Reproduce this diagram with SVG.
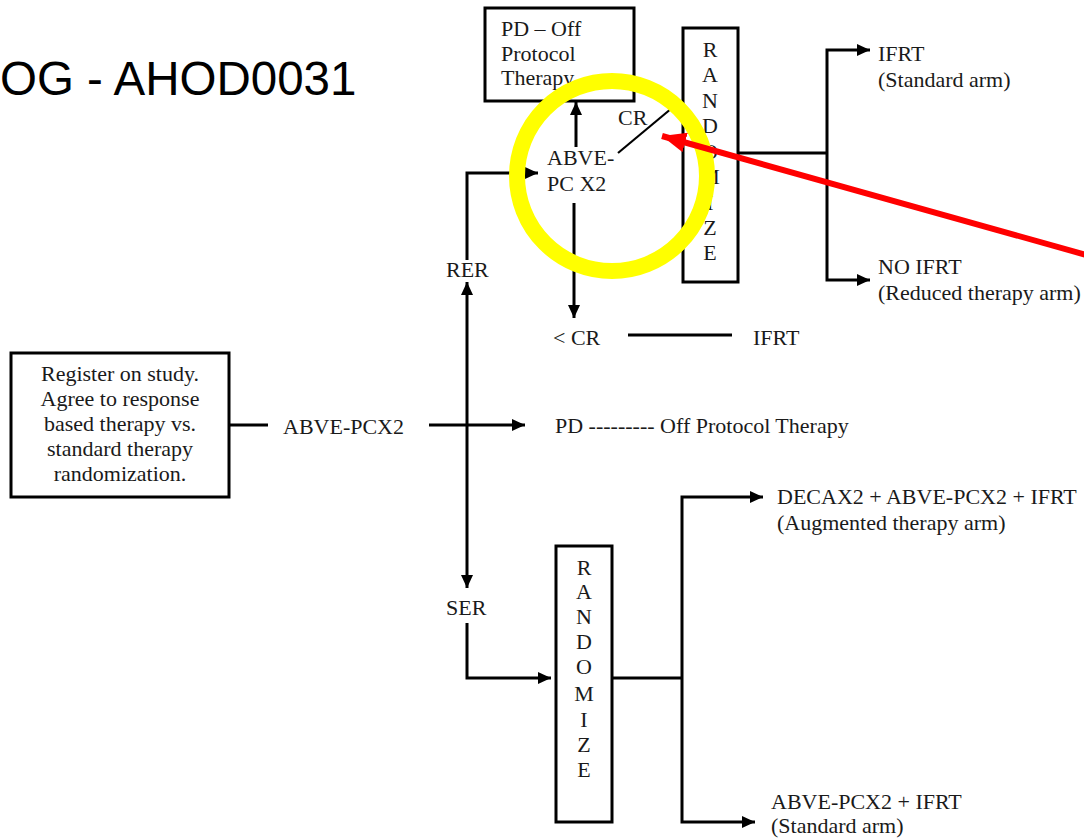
<svg xmlns="http://www.w3.org/2000/svg" width="1084" height="840" viewBox="0 0 1084 840">
<style>
  .t { font-family: "Liberation Serif", "Times New Roman", serif; font-size: 22px; fill: #1a1a1a; }
  .c { text-anchor: middle; }
  .box { fill: #ffffff; stroke: #000; stroke-width: 3; }
  .ln { fill: none; stroke: #000; stroke-width: 3; }
  .thin { fill: none; stroke: #000; stroke-width: 2.2; }
  .arr { marker-end: url(#ah); }
</style>
<defs>
  <marker id="ah" markerUnits="userSpaceOnUse" markerWidth="14" markerHeight="12" refX="13" refY="6" orient="auto">
    <path d="M0,0 L13,6 L0,12 Z" fill="#000"/>
  </marker>
  <marker id="rah" markerUnits="userSpaceOnUse" markerWidth="26" markerHeight="20" refX="24" refY="10" orient="auto">
    <path d="M0,0 L24,10 L0,20 Z" fill="#ff0000"/>
  </marker>
</defs>
<rect width="1084" height="840" fill="#ffffff"/>

<text x="0" y="95" font-family="'Liberation Sans', Arial, sans-serif" font-size="47.5" fill="#000">OG - AHOD0031</text>

<g id="connectors">
  <line class="ln" x1="229" y1="425" x2="268" y2="425"/>
  <line class="ln arr" x1="429" y1="425" x2="525" y2="425"/>
  <path class="ln arr" d="M467,260 V173 H538"/>
  <path class="ln arr" d="M467,425 V282"/>
  <path class="ln arr" d="M467,425 V588"/>
  <path class="ln arr" d="M467,623 V678 H551"/>
  <path class="ln arr" d="M576,147 V102"/>
  <path class="ln arr" d="M574,203 V318"/>
  <line class="ln" x1="628" y1="335" x2="732" y2="335"/>
  <line class="thin" x1="618" y1="153" x2="672" y2="108"/>
  <line class="ln" x1="738" y1="153" x2="827" y2="153"/>
  <path class="ln arr" d="M827,153 V50 H870"/>
  <path class="ln arr" d="M827,153 V280 H870"/>
  <line class="ln" x1="612" y1="678" x2="682" y2="678"/>
  <path class="ln arr" d="M682,678 V497 H763"/>
  <path class="ln arr" d="M682,678 V822 H755"/>
</g>

<g id="register">
  <rect class="box" x="11" y="353" width="218" height="144"/>
  <text class="t c" x="120" y="381">Register on study.</text>
  <text class="t c" x="120" y="406">Agree to response</text>
  <text class="t c" x="120" y="431">based therapy vs.</text>
  <text class="t c" x="120" y="456">standard therapy</text>
  <text class="t c" x="120" y="481">randomization.</text>
</g>

<g id="abvepcx2-label"><text class="t" x="283" y="434">ABVE-PCX2</text></g>
<g id="pd-off-label"><text class="t" x="555" y="433">PD --------- Off Protocol Therapy</text></g>

<g id="pd-box">
  <rect class="box" x="485" y="8" width="149" height="93"/>
  <text class="t" x="501" y="36">PD – Off</text>
  <text class="t" x="501" y="61">Protocol</text>
  <text class="t" x="501" y="85">Therapy</text>
</g>

<g id="abve-pc-x2">
  <text class="t" x="547" y="165">ABVE-</text>
  <text class="t" x="547" y="191">PC X2</text>
</g>
<g id="cr-label"><text class="t" x="618" y="125">CR</text></g>
<g id="rer-label"><text class="t" x="446" y="277">RER</text></g>
<g id="ser-label"><text class="t" x="446" y="615">SER</text></g>
<g id="lt-cr"><text class="t" x="553" y="345">&lt; CR</text></g>
<g id="ifrt-mid"><text class="t" x="753" y="345">IFRT</text></g>

<g id="randomize-top">
  <rect class="box" x="683" y="28" width="55" height="254"/>
  <text class="t c" x="710" y="57">R</text>
  <text class="t c" x="710" y="82">A</text>
  <text class="t c" x="710" y="108">N</text>
  <text class="t c" x="710" y="133">D</text>
  <text class="t c" x="710" y="159">O</text>
  <text class="t c" x="710" y="184">M</text>
  <text class="t c" x="710" y="210">I</text>
  <text class="t c" x="710" y="235">Z</text>
  <text class="t c" x="710" y="260">E</text>
</g>

<g id="ifrt-standard">
  <text class="t" x="878" y="61">IFRT</text>
  <text class="t" x="878" y="87">(Standard arm)</text>
</g>
<g id="no-ifrt">
  <text class="t" x="878" y="274">NO IFRT</text>
  <text class="t" x="878" y="300">(Reduced therapy arm)</text>
</g>

<g id="randomize-bottom">
  <rect class="box" x="556" y="546" width="56" height="276"/>
  <text class="t c" x="584" y="575">R</text>
  <text class="t c" x="584" y="599">A</text>
  <text class="t c" x="584" y="624">N</text>
  <text class="t c" x="584" y="649">D</text>
  <text class="t c" x="584" y="674">O</text>
  <text class="t c" x="584" y="701">M</text>
  <text class="t c" x="584" y="727">I</text>
  <text class="t c" x="584" y="752">Z</text>
  <text class="t c" x="584" y="777">E</text>
</g>

<g id="augmented">
  <text class="t" x="777" y="504">DECAX2 + ABVE-PCX2 + IFRT</text>
  <text class="t" x="777" y="530">(Augmented therapy arm)</text>
</g>
<g id="standard-bottom">
  <text class="t" x="771" y="809">ABVE-PCX2 + IFRT</text>
  <text class="t" x="771" y="833">(Standard arm)</text>
</g>

<g id="highlight">
  <circle cx="612" cy="176" r="95" fill="none" stroke="#ffff00" stroke-width="16"/>
  <line x1="1090" y1="256" x2="662" y2="136" stroke="#ff0000" stroke-width="6" marker-end="url(#rah)"/>
</g>
</svg>
